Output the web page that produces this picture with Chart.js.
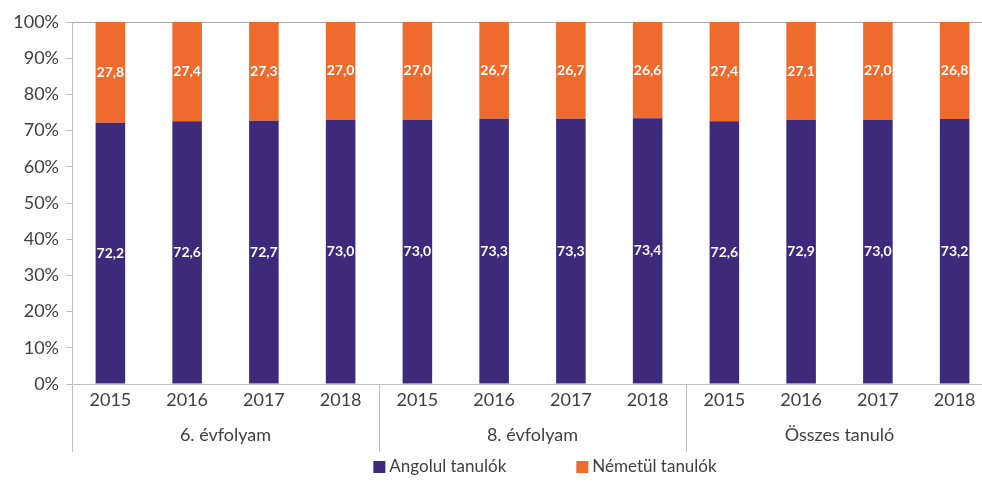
<!DOCTYPE html>
<html>
<head>
<meta charset="utf-8">
<script src="https://cdn.jsdelivr.net/npm/chart.js@4/dist/chart.umd.min.js"></script>
<style>
  html, body { margin: 0; padding: 0; background: #fff; overflow: hidden; }
  #wrap { width: 993px; height: 490px; position: relative; }
</style>
</head>
<body>
<div id="wrap"><canvas id="chart"></canvas></div>
<script>
// data
var years = ['2015', '2016', '2017', '2018', '2015', '2016', '2017', '2018', '2015', '2016', '2017', '2018'];
var groups = ['6. évfolyam', '8. évfolyam', 'Összes tanuló'];
var angol = [72.2, 72.6, 72.7, 73.0, 73.0, 73.3, 73.3, 73.4, 72.6, 72.9, 73.0, 73.2];
var nemet = [27.8, 27.4, 27.3, 27.0, 27.0, 26.7, 26.7, 26.6, 27.4, 27.1, 27.0, 26.8];
var yTicks = [0, 10, 20, 30, 40, 50, 60, 70, 80, 90, 100];

var purple = '#3e2a7a';
var orange = '#ee6a2d';
var axisGray = '#bfbfbf';
var textGray = '#404040';
var fontFam = 'Lato, "Open Sans", sans-serif';

// value labels inside bars
var barLabels = {
    id: 'barLabels',
    afterDatasetsDraw: function(chart) {
        var ctx = chart.ctx;
        ctx.save();
        ctx.font = 'bold 14px ' + fontFam;
        ctx.fillStyle = '#ffffff';
        ctx.textAlign = 'center';
        ctx.textBaseline = 'middle';
        chart.data.datasets.forEach(function(ds, i) {
            var meta = chart.getDatasetMeta(i);
            meta.data.forEach(function(bar, j) {
                var y = (bar.y + bar.base) / 2;
                ctx.fillText(ds.data[j].toFixed(1).replace('.', ','), bar.x, y);
            });
        });
        ctx.restore();
    }
};

// second level of the x axis: group names and separators
var groupAxis = {
    id: 'groupAxis',
    afterDraw: function(chart) {
        var ctx = chart.ctx;
        var area = chart.chartArea;
        var step = (area.right - area.left) / years.length;
        var perGroup = years.length / groups.length;
        ctx.save();
        ctx.strokeStyle = axisGray;
        ctx.lineWidth = 1;
        for (var g = 0; g <= groups.length; g++) {
            var px = Math.round(area.left + g * perGroup * step) + 0.5;
            ctx.beginPath();
            ctx.moveTo(px, area.bottom);
            ctx.lineTo(px, area.bottom + 68);
            ctx.stroke();
        }
        ctx.font = '18px ' + fontFam;
        ctx.fillStyle = textGray;
        ctx.textAlign = 'center';
        ctx.textBaseline = 'middle';
        groups.forEach(function(name, g) {
            var cx = area.left + (g + 0.5) * perGroup * step;
            ctx.fillText(name, cx, area.bottom + 51);
        });
        ctx.restore();
    }
};

// legend at the bottom
var bottomLegend = {
    id: 'bottomLegend',
    afterDraw: function(chart) {
        var ctx = chart.ctx;
        ctx.save();
        ctx.font = '17px ' + fontFam;
        ctx.textBaseline = 'middle';
        var box = 12, gapText = 4, gapItem = 70;
        var items = chart.data.datasets;
        var total = 0;
        items.forEach(function(ds, i) {
            total += box + gapText + ctx.measureText(ds.label).width;
            if (i < items.length - 1) total += gapItem;
        });
        var x = 545 - total / 2;
        var y = 467;
        items.forEach(function(ds) {
            ctx.fillStyle = ds.backgroundColor;
            ctx.fillRect(x, y - box / 2, box, box);
            x += box + gapText;
            ctx.fillStyle = textGray;
            ctx.fillText(ds.label, x, y);
            x += ctx.measureText(ds.label).width + gapItem;
        });
        ctx.restore();
    }
};

new Chart(document.getElementById('chart'), {
    type: 'bar',
    data: {
        labels: years,
        datasets: [
            { label: 'Angolul tanulók', data: angol, backgroundColor: purple },
            { label: 'Németül tanulók', data: nemet, backgroundColor: orange }
        ]
    },
    options: {
        responsive: true,
        maintainAspectRatio: false,
        animation: false,
        layout: { padding: { left: 0, right: 0, top: 22, bottom: 38 } },
        datasets: { bar: { barPercentage: 0.55, categoryPercentage: 0.7 } },
        plugins: {
            legend: { display: false },
            tooltip: { enabled: false }
        },
        scales: {
            x: {
                stacked: true,
                grid: { display: false },
                border: { display: true, color: axisGray },
                ticks: { color: textGray, font: { family: fontFam, size: 18 }, padding: -3, maxRotation: 0 },
                afterFit: function(s) { s.height = 68; }
            },
            y: {
                stacked: true,
                min: 0,
                max: 100,
                afterBuildTicks: function(s) { s.ticks = yTicks.map(function(v) { return { value: v }; }); },
                grid: {
                    color: function(c) { return c.tick && c.tick.value === 100 ? '#a8a8b0' : 'rgba(0,0,0,0)'; },
                    tickColor: axisGray,
                    tickLength: 6
                },
                border: { display: true, color: axisGray },
                ticks: {
                    color: textGray,
                    font: { family: fontFam, size: 18 },
                    padding: 7,
                    callback: function(v) { return v + '%'; }
                },
                afterFit: function(s) { s.width = 72; }
            }
        }
    },
    plugins: [barLabels, groupAxis, bottomLegend]
});
</script>
</body>
</html>
